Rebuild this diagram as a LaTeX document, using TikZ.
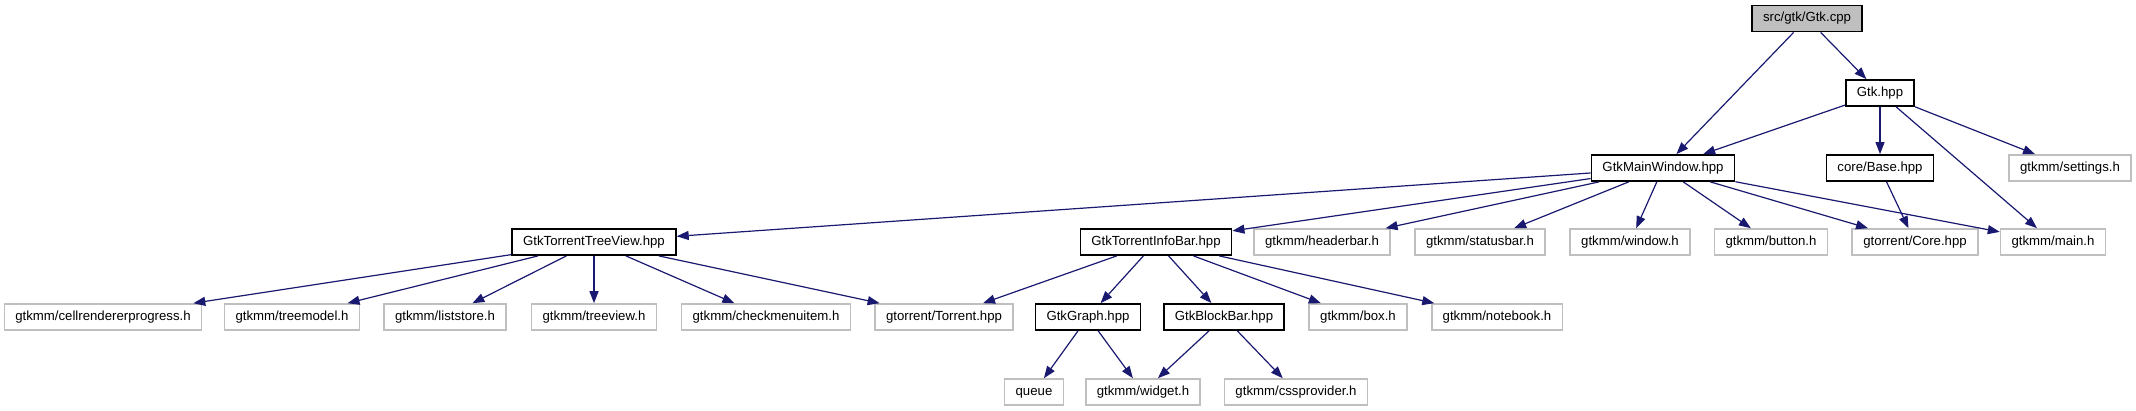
\documentclass[tikz,border=0pt]{standalone}
\usepackage{fontspec}
\setmainfont{Liberation Sans}
\usetikzlibrary{arrows.meta,positioning}
\definecolor{dxedge}{HTML}{191970}
\definecolor{dxgrey}{HTML}{BFBFBF}
\begin{document}
\begin{tikzpicture}[x=0.5pt, y=-0.5pt,
  hdr/.style ={rectangle, draw=black, line width=0.9pt, fill=white,
               inner xsep=5.5pt, inner ysep=0pt, minimum height=13pt,
               text height=4.8pt, text depth=1.3pt,
               font=\fontsize{6.6}{8}\selectfont},
  ext/.style ={hdr, draw=dxgrey, line width=0.8pt},
  root/.style={hdr, fill=dxgrey},
  dep/.style ={-{Triangle[length=6pt,width=4.5pt]}, draw=dxedge, line width=0.6pt}
]
  \useasboundingbox (0,0) rectangle (2136,411);
  % level 0 and 1
  \node[root] (cpp)      at (1807,18.5) {src/gtk/Gtk.cpp};
  \node[hdr]  (gtkhpp)   at (1880,93)   {Gtk.hpp};
  % level 2
  \node[hdr]  (mainwin)  at (1663,168)  {GtkMainWindow.hpp};
  \node[hdr]  (base)     at (1880,168)  {core/Base.hpp};
  \node[ext]  (settings) at (2070,168)  {gtkmm/settings.h};
  % level 3
  \node[hdr]  (treeview) at (594,242)   {GtkTorrentTreeView.hpp};
  \node[hdr]  (infobar)  at (1156,242)  {GtkTorrentInfoBar.hpp};
  \node[ext]  (headerbar) at (1322,242) {gtkmm/headerbar.h};
  \node[ext]  (statusbar) at (1480,242) {gtkmm/statusbar.h};
  \node[ext]  (window)   at (1630,242)  {gtkmm/window.h};
  \node[ext]  (button)   at (1771,242)  {gtkmm/button.h};
  \node[ext]  (core)     at (1915,242)  {gtorrent/Core.hpp};
  \node[ext]  (mainh)    at (2053,242)  {gtkmm/main.h};
  % level 4
  \node[ext]  (cellrp)   at (103,317)   {gtkmm/cellrendererprogress.h};
  \node[ext]  (treemodel) at (292,317)  {gtkmm/treemodel.h};
  \node[ext]  (liststore) at (445,317)  {gtkmm/liststore.h};
  \node[ext]  (treeviewh) at (594,317)  {gtkmm/treeview.h};
  \node[ext]  (checkmenu) at (766,317)  {gtkmm/checkmenuitem.h};
  \node[ext]  (torrent)  at (944,317)   {gtorrent/Torrent.hpp};
  \node[hdr]  (graph)    at (1088,317)  {GtkGraph.hpp};
  \node[hdr]  (blockbar) at (1224,317)  {GtkBlockBar.hpp};
  \node[ext]  (box)      at (1358,317)  {gtkmm/box.h};
  \node[ext]  (notebook) at (1497,317)  {gtkmm/notebook.h};
  % level 5
  \node[ext]  (queue)    at (1034,392)  {queue};
  \node[ext]  (widget)   at (1143,392)  {gtkmm/widget.h};
  \node[ext]  (css)      at (1296,392)  {gtkmm/cssprovider.h};

  \draw[dep] (cpp) -- (mainwin);      \draw[dep] (cpp) -- (gtkhpp);
  \draw[dep] (gtkhpp) -- (mainwin);   \draw[dep] (gtkhpp) -- (base);
  \draw[dep] (gtkhpp) -- (mainh);     \draw[dep] (gtkhpp) -- (settings);
  \draw[dep] (mainwin) -- (treeview); \draw[dep] (mainwin) -- (infobar);
  \draw[dep] (mainwin) -- (headerbar); \draw[dep] (mainwin) -- (statusbar);
  \draw[dep] (mainwin) -- (window);   \draw[dep] (mainwin) -- (button);
  \draw[dep] (mainwin) -- (core);     \draw[dep] (mainwin) -- (mainh);
  \draw[dep] (base) -- (core);
  \draw[dep] (treeview) -- (cellrp);  \draw[dep] (treeview) -- (treemodel);
  \draw[dep] (treeview) -- (liststore); \draw[dep] (treeview) -- (treeviewh);
  \draw[dep] (treeview) -- (checkmenu); \draw[dep] (treeview) -- (torrent);
  \draw[dep] (infobar) -- (torrent);  \draw[dep] (infobar) -- (graph);
  \draw[dep] (infobar) -- (blockbar); \draw[dep] (infobar) -- (box);
  \draw[dep] (infobar) -- (notebook);
  \draw[dep] (graph) -- (queue);      \draw[dep] (graph) -- (widget);
  \draw[dep] (blockbar) -- (widget);  \draw[dep] (blockbar) -- (css);
\end{tikzpicture}
\end{document}
